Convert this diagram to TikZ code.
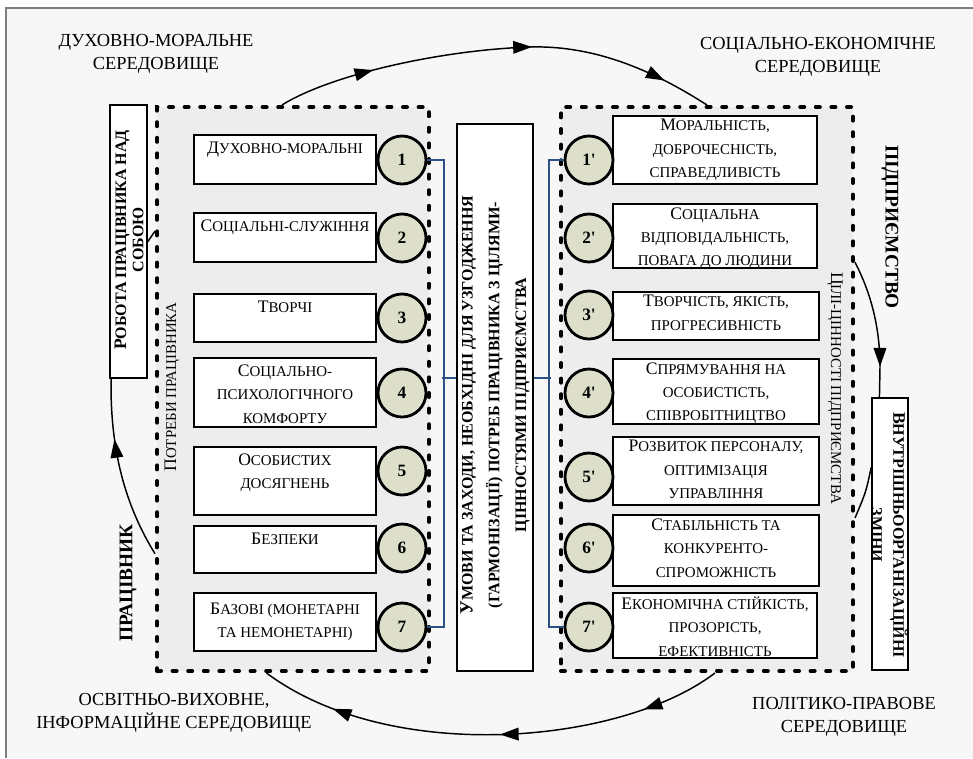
\documentclass[tikz,border=0pt]{standalone}
\usepackage{fontspec}
\setmainfont{Liberation Serif}
\usetikzlibrary{arrows.meta,decorations.markings,calc,fit}

% fake small capitals: smaller upper-case letters
\newcommand\scsz{11.2}
\newcommand\SC[1]{{\fontsize{\scsz}{\scsz}\selectfont #1}}
\newcommand\tipmark{\arrow{Triangle[length=14pt,width=9.5pt]}}

\definecolor{pagebg}{HTML}{F7F7F7}
\definecolor{zonebg}{HTML}{EDEDED}
\definecolor{numfill}{HTML}{DDDFCB}
\definecolor{linkblue}{HTML}{2E5185}
\definecolor{framegray}{HTML}{7F7F7F}

\begin{document}
\begin{tikzpicture}[x=0.75pt,y=-0.75pt,
  zone/.style={draw=black,line width=3pt,dash pattern=on 3pt off 8.7pt,line cap=round,fill=zonebg,inner sep=0pt,rectangle},
  box/.style={draw=black,line width=1.3pt,fill=white,inner sep=0pt,rectangle},
  num/.style={circle,draw=black,line width=2.1pt,fill=numfill,minimum size=36pt,inner sep=0pt,font=\fontsize{13}{13}\selectfont\bfseries},
  txt/.style={align=center,inner sep=0pt,font=\fontsize{13.2}{17.6}\selectfont},
  toptxt/.style={txt,anchor=north,yshift=-3pt},
  lefttxt/.style={txt,anchor=north,yshift=-5.5pt},
  env/.style={align=center,inner sep=0pt,font=\fontsize{13.8}{17}\selectfont},
  biglbl/.style={inner sep=0pt,font=\fontsize{14.5}{17}\selectfont\bfseries},
  link/.style={draw=linkblue,line width=1.6pt},
  cyc/.style={draw=black,line width=1.1pt},
  ah/.style={postaction={decorate,decoration={markings,mark=at position #1 with {\tipmark}}}}
]
\useasboundingbox (0,0) rectangle (973,758);
\fill[white] (0,0) rectangle (973,758);
\fill[pagebg] (6,8) rectangle (973,758);
\draw[framegray,line width=1.2pt] (973,8) -- (6,8) -- (6,758);

% environment labels
\node[env] (envA) at (156,54) {ДУХОВНО-МОРАЛЬНЕ\\СЕРЕДОВИЩЕ};
\node[env] (envB) at (818,57) {СОЦІАЛЬНО-ЕКОНОМІЧНЕ\\СЕРЕДОВИЩЕ};
\node[env] (envC) at (174,713) {ОСВІТНЬО-ВИХОВНЕ,\\ІНФОРМАЦІЙНЕ СЕРЕДОВИЩЕ};
\node[env] (envD) at (844,717) {ПОЛІТИКО-ПРАВОВЕ\\СЕРЕДОВИЩЕ};

% dotted zones
\node[zone,fit={(157,107) (429,671)}] (lbox) {};
\node[zone,fit={(561,107) (853,671)}] (rbox) {};

% side boxes
\node[box,fit={(110,105) (147,378)}] (rob) {};
\node[box,fit={(872,398) (908,670)}] (vbox) {};
\node[box,fit={(457,124) (533,671)}] (mid) {};

% employee needs
\node[box,fit={(194,135) (376,184)}] (n1) {};
\node[box,fit={(194,213) (376,262)}] (n2) {};
\node[box,fit={(194,294) (376,342)}] (n3) {};
\node[box,fit={(194,358) (376,427)}] (n4) {};
\node[box,fit={(194,447) (376,515)}] (n5) {};
\node[box,fit={(194,526) (376,573)}] (n6) {};
\node[box,fit={(194,593) (376,651)}] (n7) {};
\node[lefttxt] (tn1) at (n1.north) {Д\SC{УХОВНО-МОРАЛЬНІ}};
\node[lefttxt] (tn2) at (n2.north) {С\SC{ОЦІАЛЬНІ-СЛУЖІННЯ}};
\node[lefttxt] (tn3) at (n3.north) {Т\SC{ВОРЧІ}};
\node[lefttxt] (tn4) at (n4.north) {С\SC{ОЦІАЛЬНО-}\\\SC{ПСИХОЛОГІЧНОГО}\\\SC{КОМФОРТУ}};
\node[lefttxt] (tn5) at (n5.north) {О\SC{СОБИСТИХ}\\\SC{ДОСЯГНЕНЬ}};
\node[lefttxt] (tn6) at (n6.north) {Б\SC{ЕЗПЕКИ}};
\node[txt] (tn7) at (n7.center) {Б\SC{АЗОВІ (МОНЕТАРНІ}\\\SC{ТА НЕМОНЕТАРНІ)}};

% enterprise goals and values
\node[box,fit={(613,116) (817,184)}] (m1) {};
\node[box,fit={(613,204) (817,268)}] (m2) {};
\node[box,fit={(613,292) (819,340)}] (m3) {};
\node[box,fit={(613,359) (819,424)}] (m4) {};
\node[box,fit={(613,437) (819,505)}] (m5) {};
\node[box,fit={(613,515) (819,586)}] (m6) {};
\node[box,fit={(613,593) (817,658)}] (m7) {};
\node[toptxt] (tm1) at (m1.north) {М\SC{ОРАЛЬНІСТЬ,}\\\SC{ДОБРОЧЕСНІСТЬ,}\\\SC{СПРАВЕДЛИВІСТЬ}};
\node[toptxt] (tm2) at (m2.north) {С\SC{ОЦІАЛЬНА}\\\SC{ВІДПОВІДАЛЬНІСТЬ,}\\\SC{ПОВАГА ДО ЛЮДИНИ}};
\node[toptxt] (tm3) at (m3.north) {Т\SC{ВОРЧІСТЬ, ЯКІСТЬ,}\\\SC{ПРОГРЕСИВНІСТЬ}};
\node[toptxt] (tm4) at (m4.north) {С\SC{ПРЯМУВАННЯ НА}\\\SC{ОСОБИСТІСТЬ,}\\\SC{СПІВРОБІТНИЦТВО}};
\node[toptxt] (tm5) at (m5.north) {Р\SC{ОЗВИТОК ПЕРСОНАЛУ,}\\\SC{ОПТИМІЗАЦІЯ}\\\SC{УПРАВЛІННЯ}};
\node[toptxt] (tm6) at (m6.north) {С\SC{ТАБІЛЬНІСТЬ ТА}\\\SC{КОНКУРЕНТО-}\\\SC{СПРОМОЖНІСТЬ}};
\node[toptxt] (tm7) at (m7.north) {Е\SC{КОНОМІЧНА СТІЙКІСТЬ,}\\\SC{ПРОЗОРІСТЬ,}\\\SC{ЕФЕКТИВНІСТЬ}};

% numbered circles
\node[num] (c1) at (402,160) {1};
\node[num] (c2) at (402,238) {2};
\node[num] (c3) at (402,318) {3};
\node[num] (c4) at (402,393) {4};
\node[num] (c5) at (402,471) {5};
\node[num] (c6) at (402,548) {6};
\node[num] (c7) at (402,627) {7};
\node[num] (d1) at (589,160) {1\textquotesingle};
\node[num] (d2) at (589,238) {2\textquotesingle};
\node[num] (d3) at (589,315) {3\textquotesingle};
\node[num] (d4) at (589,393) {4\textquotesingle};
\node[num] (d5) at (589,477) {5\textquotesingle};
\node[num] (d6) at (589,548) {6\textquotesingle};
\node[num] (d7) at (589,627) {7\textquotesingle};

% brackets linking needs and values through the middle box
\draw[link] (c1.east) -- ++(17,0) |- (c7.east);
\draw[link] (d1.west) -- ++(-15,0) |- (d7.west);
\draw[link] ($(mid.north west)!0.465!(mid.south west)$) -- ++(-14,0);
\draw[link] ($(mid.north east)!0.465!(mid.south east)$) -- ++(17,0);

% rotated labels
\node[txt,rotate=90,font=\def\scsz{12}\fontsize{13.2}{13}\selectfont\bfseries] (robt) at (129,240) {Р\SC{ОБОТА ПРАЦІВНИКА НАД}\\\SC{СОБОЮ}};
\node[txt,rotate=-90,font=\def\scsz{12}\fontsize{13.2}{16.5}\selectfont\bfseries] (vboxt) at (889,535) {В\SC{НУТРІШНЬООРГАНІЗАЦІЙНІ}\\\SC{ЗМІНИ}};
\node[txt,rotate=90,font=\def\scsz{12}\fontsize{14}{20}\selectfont\bfseries] (midt) at (495,405) {У\SC{МОВИ ТА ЗАХОДИ, НЕОБХІДНІ ДЛЯ УЗГОДЖЕННЯ}\\\SC{(ГАРМОНІЗАЦІЇ) ПОТРЕБ ПРАЦІВНИКА З ЦІЛЯМИ-}\\\SC{ЦІННОСТЯМИ ПІДПРИЄМСТВА}};
\node[txt,rotate=90] (needs) at (172,387) {П\SC{ОТРЕБИ ПРАЦІВНИКА}};
\node[txt,rotate=-90] (goals) at (835,388) {Ц\SC{ІЛІ-ЦІННОСТІ ПІДПРИЄМСТВА}};
\node[biglbl,rotate=90] (worker) at (128,583) {ПРАЦІВНИК};
\node[biglbl,rotate=-90] (firm) at (890,227) {ПІДПРИЄМСТВО};

% cycle of environments
\draw[cyc,ah=0.22,ah=0.58,ah=0.89]
  ($(lbox.north west)!0.46!(lbox.north east)$) .. controls (330,75) and (440,50) .. (530,47)
  .. controls (600,45) and (660,75) .. (rbox.north);
\draw[cyc,ah=0.78]
  ($(rbox.north east)!0.277!(rbox.south east)$) .. controls (872,295) and (880,330) .. (880,367)
  -- ($(vbox.north west)!0.22!(vbox.north east)$);
\draw[cyc]
  ($(vbox.north west)!0.257!(vbox.south west)$) .. controls (866,492) .. ($(rbox.north east)!0.727!(rbox.south east)$);
\draw[cyc,ah=0.17,ah=0.48,ah=0.84]
  ($(rbox.south west)!0.527!(rbox.south east)$) .. controls (620,745) and (390,765) .. ($(lbox.south west)!0.404!(lbox.south east)$);
\draw[cyc,ah=0.67]
  ($(lbox.north west)!0.79!(lbox.south west)$) .. controls (125,505) and (110,450) .. ($(rob.south west)!0.05!(rob.south east)$);
\draw[cyc] (rob.east) -- ($(lbox.north west)!0.222!(lbox.south west)$);
\end{tikzpicture}
\end{document}
